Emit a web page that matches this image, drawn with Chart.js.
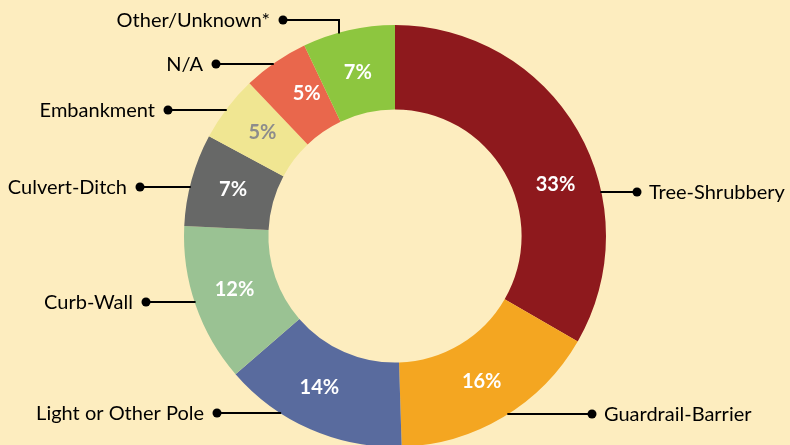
<!DOCTYPE html>
<html>
<head>
    <meta charset="utf-8">
    <script src="https://cdn.jsdelivr.net/npm/chart.js@4.4.1/dist/chart.umd.min.js"></script>
    <style>
        html, body {
            margin: 0;
            padding: 0;
            background: #FDEDBF;
            overflow: hidden;
            width: 790px;
            height: 445px;
        }
        .wrap {
            position: absolute;
            left: 0;
            top: 0;
            width: 790px;
            height: 447px; /* the ring runs a little past the bottom edge */
        }
    </style>
</head>
<body>

    <div class="wrap">
        <canvas id="donut" width="790" height="447"></canvas>
    </div>

    <script>
        // data
        const categories = ['Tree-Shrubbery', 'Guardrail-Barrier', 'Light or Other Pole', 'Curb-Wall',
                            'Culvert-Ditch', 'Embankment', 'N/A', 'Other/Unknown*'];
        const shares = [33, 16, 14, 12, 7, 5, 5, 7];
        const shareLabels = ['33%', '16%', '14%', '12%', '7%', '5%', '5%', '7%'];

        const colors = ['#8E191D', '#F4A621', '#596B9E', '#9AC293', '#676867', '#F0E692', '#E9674C', '#8DC63F'];
        const pctColors = ['#fff', '#fff', '#fff', '#fff', '#fff', '#8C8C8C', '#fff', '#fff'];
        const pctNudge = [12, 0, 3, 1, 1, 1, 3, 0]; // degrees, to sit like the original

        // callouts: side, y of the dot, x of the dot, optional elbow x
        const callouts = [
            { side: 'right', y: 192, dotX: 637 },
            { side: 'right', y: 414, dotX: 592 },
            { side: 'left', y: 413, dotX: 217 },
            { side: 'left', y: 302, dotX: 146 },
            { side: 'left', y: 187, dotX: 140 },
            { side: 'left', y: 110, dotX: 168 },
            { side: 'left', y: 64, dotX: 216 },
            { side: 'left', y: 20, dotX: 283, elbowX: 339 }
        ];

        const labelPlugin = {
            id: 'labels',
            afterDraw(chart) {
                const ctx = chart.ctx;
                const arcs = chart.getDatasetMeta(0).data;
                const cx = arcs[0].x, cy = arcs[0].y;
                const R = arcs[0].outerRadius;

                // percentages inside the ring
                ctx.save();
                ctx.font = 'bold 20px Lato';
                ctx.textAlign = 'center';
                ctx.textBaseline = 'middle';
                arcs.forEach((a, i) => {
                    const ang = (a.startAngle + a.endAngle) / 2 + pctNudge[i] * Math.PI / 180;
                    const r = (a.innerRadius + a.outerRadius) / 2;
                    ctx.fillStyle = pctColors[i];
                    ctx.fillText(shareLabels[i], cx + Math.cos(ang) * r, cy + Math.sin(ang) * r + 1);
                });
                ctx.restore();

                // leader lines, dots and names
                ctx.save();
                ctx.strokeStyle = '#000';
                ctx.fillStyle = '#000';
                ctx.lineWidth = 2;
                ctx.font = '20px Lato';
                ctx.textBaseline = 'middle';
                callouts.forEach((c, i) => {
                    ctx.beginPath();
                    ctx.moveTo(c.dotX, c.y);
                    if (c.elbowX) {
                        ctx.lineTo(c.elbowX, c.y);
                        ctx.lineTo(c.elbowX, cy - Math.sqrt(R * R - Math.pow(c.elbowX - cx, 2)) + 1);
                    } else {
                        const dx = Math.sqrt(R * R - Math.pow(c.y - cy, 2));
                        ctx.lineTo(c.side === 'right' ? cx + dx - 1 : cx - dx + 1, c.y);
                    }
                    ctx.stroke();

                    ctx.beginPath();
                    ctx.arc(c.dotX, c.y, 4.5, 0, Math.PI * 2);
                    ctx.fill();

                    if (c.side === 'right') {
                        ctx.textAlign = 'left';
                        ctx.fillText(categories[i], c.dotX + 12, c.y + 1);
                    } else {
                        ctx.textAlign = 'right';
                        ctx.fillText(categories[i], c.dotX - 13, c.y + 1);
                    }
                });
                ctx.restore();
            }
        };

        const ctx = document.getElementById('donut').getContext('2d');
        new Chart(ctx, {
            type: 'doughnut',
            data: {
                labels: categories,
                datasets: [{
                    data: shares,
                    backgroundColor: colors,
                    borderWidth: 0
                }]
            },
            options: {
                responsive: false,
                animation: false,
                cutout: '60%',
                layout: { padding: { top: 25, bottom: 0, left: 0, right: 0 } },
                plugins: {
                    legend: { display: false },
                    tooltip: { enabled: false }
                }
            },
            plugins: [labelPlugin]
        });
    </script>

</body>
</html>
